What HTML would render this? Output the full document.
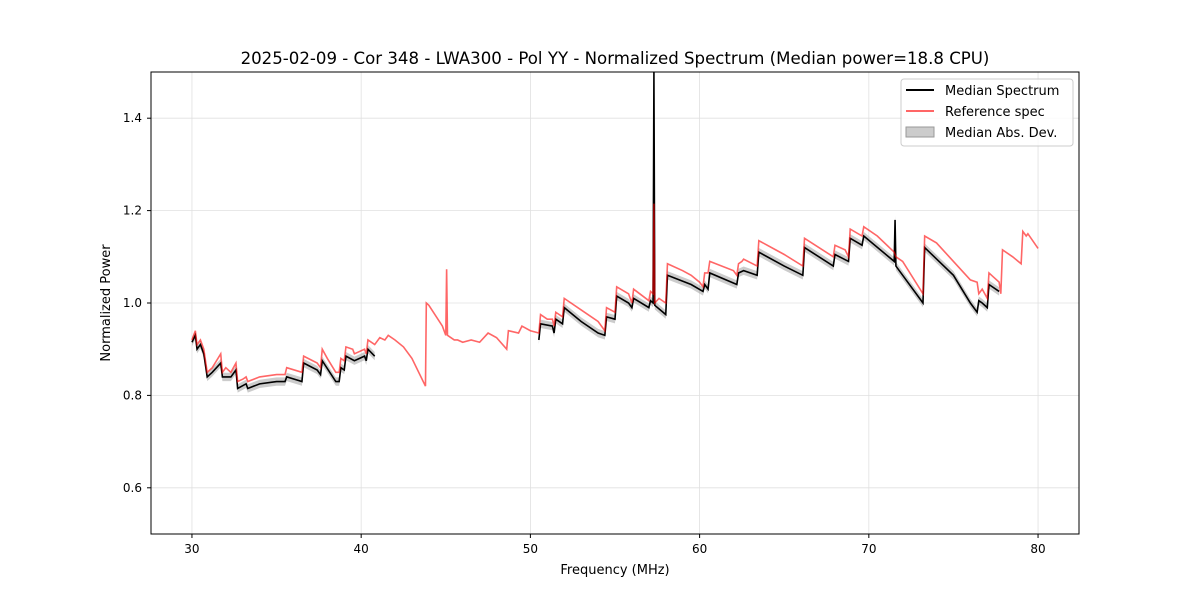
<!DOCTYPE html>
<html><head><meta charset="utf-8"><style>
body{margin:0;background:#fff;font-family:"Liberation Sans","DejaVu Sans",sans-serif}
svg text{font-family:"DejaVu Sans","Liberation Sans",sans-serif}
</style></head><body>
<svg id="c" width="1200" height="600" xmlns="http://www.w3.org/2000/svg"></svg>
<script>
const refFreq=[30.0,30.2,30.3,30.5,30.7,30.9,31.2,31.7,31.8,32.0,32.3,32.6,32.7,33.0,33.2,33.3,34,35,35.5,35.6,36.5,36.6,37.4,37.6,37.7,38.0,38.5,38.7,38.8,39.0,39.1,39.5,39.6,40.2,40.3,40.4,40.8,41.1,41.4,41.6,42.0,42.5,43.0,43.8,43.85,44.0,44.8,45.0,45.05,45.1,45.5,45.7,46.0,46.5,47.0,47.5,48.0,48.6,48.7,49.3,49.5,50.0,50.5,50.6,51.0,51.3,51.4,51.5,51.9,52.0,53,54,54.4,54.5,55,55.1,55.8,56.0,56.1,57.0,57.1,57.25,57.3,57.35,57.6,58.0,58.1,59,59.5,60.0,60.2,60.3,60.5,60.6,62.0,62.2,62.3,62.5,62.6,63.4,63.5,64.5,65,66.1,66.2,67.9,68.0,68.6,68.8,68.9,69.6,69.7,70.5,71.5,71.6,72.0,73.2,73.3,74,75,76,76.4,76.5,76.7,77.0,77.1,77.4,77.7,77.8,77.9,78.5,79.0,79.1,79.3,79.4,80.0];
const refVal=[0.92,0.94,0.91,0.92,0.90,0.85,0.86,0.89,0.85,0.86,0.85,0.87,0.83,0.835,0.84,0.83,0.84,0.845,0.845,0.86,0.85,0.885,0.87,0.86,0.90,0.88,0.85,0.85,0.88,0.875,0.905,0.90,0.89,0.90,0.89,0.92,0.91,0.925,0.92,0.93,0.92,0.905,0.88,0.82,1.0,0.995,0.95,0.93,1.073,0.93,0.92,0.92,0.915,0.92,0.915,0.935,0.925,0.90,0.94,0.935,0.95,0.94,0.935,0.975,0.965,0.965,0.95,0.98,0.97,1.01,0.985,0.96,0.94,0.99,0.98,1.035,1.02,1.00,1.03,1.005,1.025,1.02,1.215,1.0,1.01,1.0,1.085,1.07,1.06,1.045,1.035,1.065,1.065,1.09,1.07,1.06,1.085,1.09,1.095,1.08,1.135,1.115,1.105,1.08,1.14,1.1,1.125,1.115,1.1,1.16,1.145,1.165,1.145,1.11,1.1,1.09,1.02,1.145,1.13,1.09,1.05,1.045,1.02,1.03,1.01,1.065,1.055,1.045,1.02,1.115,1.1,1.085,1.155,1.145,1.15,1.118];
const medFreq=[30.0,30.2,30.3,30.5,30.7,30.9,31.2,31.7,31.8,32.3,32.6,32.7,33.2,33.3,34,35,35.5,35.6,36.5,36.6,37.4,37.6,37.7,38.5,38.7,38.8,39.0,39.1,39.6,40.2,40.3,40.4,40.8,null,50.5,50.6,51.3,51.4,51.5,51.9,52.0,53,54,54.4,54.5,55,55.1,55.8,56.0,56.1,57.0,57.1,57.25,57.3,57.35,58.0,58.1,59.5,60.2,60.3,60.5,60.6,62.2,62.3,62.6,63.4,63.5,65,66.1,66.2,67.9,68.0,68.8,68.9,69.6,69.7,71.5,71.55,71.6,73.2,73.3,75,76.0,76.4,76.5,76.7,77.0,77.1,77.7];
const medVal=[0.915,0.93,0.90,0.91,0.89,0.84,0.85,0.87,0.84,0.84,0.855,0.815,0.825,0.815,0.825,0.83,0.83,0.84,0.83,0.87,0.855,0.845,0.875,0.83,0.83,0.86,0.855,0.885,0.875,0.885,0.875,0.90,0.885,null,0.92,0.955,0.95,0.935,0.965,0.955,0.99,0.96,0.935,0.93,0.97,0.965,1.015,1.0,0.99,1.01,0.99,1.005,1.0,1.5,0.995,0.975,1.06,1.04,1.025,1.04,1.03,1.065,1.04,1.065,1.07,1.06,1.11,1.08,1.06,1.12,1.08,1.105,1.09,1.14,1.125,1.145,1.09,1.18,1.08,1.0,1.12,1.06,1.0,0.98,1.005,1.0,0.99,1.04,1.025];
const madVal=0.009;
const xTicks=[30,40,50,60,70,80];
const yTicks=[0.6,0.8,1.0,1.2,1.4];
const X0=151,X1=1079,Y0=72,Y1=534,xmin=27.58,xmax=82.42,ymin=0.5,ymax=1.5;
const sx=v=>X0+(v-xmin)/(xmax-xmin)*(X1-X0);
const sy=v=>Y1-(v-ymin)/(ymax-ymin)*(Y1-Y0);
const svg=document.getElementById('c');const NS='http://www.w3.org/2000/svg';
function mk(t,a,p){const e=document.createElementNS(NS,t);for(const k in a)e.setAttribute(k,a[k]);(p||svg).appendChild(e);return e;}
const clip=mk('clipPath',{id:'cl'});mk('rect',{x:X0,y:Y0,width:X1-X0,height:Y1-Y0},clip);
xTicks.forEach(t=>{const g=mk('line',{x1:sx(t),x2:sx(t),y1:Y0,y2:Y1,stroke:'#e0e0e0','stroke-width':0.8});


mk('line',{x1:sx(t),x2:sx(t),y1:Y1,y2:Y1+4,stroke:'#000'});
const tx=mk('text',{x:sx(t),y:Y1+19,'text-anchor':'middle','font-size':12});tx.textContent=t;

});
yTicks.forEach(t=>{const g=mk('line',{x1:X0,x2:X1,y1:sy(t),y2:sy(t),stroke:'#e0e0e0','stroke-width':0.8});


mk('line',{x1:X0-4,x2:X0,y1:sy(t),y2:sy(t),stroke:'#000'});
const tx=mk('text',{x:X0-9,y:sy(t)+4,'text-anchor':'end','font-size':12});tx.textContent=t.toFixed(1);

});
function segs(fx,fy){const out=[];let cur=[];fx.forEach((f,i)=>{if(f===null){if(cur.length)out.push(cur);cur=[];}else cur.push([f,fy[i]]);});if(cur.length)out.push(cur);return out;}
const g=mk('g',{'clip-path':'url(#cl)'});
segs(medFreq,medVal).forEach(s=>{const top=s.map(p=>sx(p[0])+','+sy(p[1]+madVal));const bot=s.slice().reverse().map(p=>sx(p[0])+','+sy(p[1]-madVal));
const b=mk('polygon',{points:top.concat(bot).join(' '),fill:'#999','fill-opacity':0.5},g);

});
segs(medFreq,medVal).forEach(s=>{const l=mk('polyline',{points:s.map(p=>sx(p[0])+','+sy(p[1])).join(' '),fill:'none',stroke:'#000','stroke-width':1.6},g);

});
const rl=mk('polyline',{points:refFreq.map((f,i)=>sx(f)+','+sy(refVal[i])).join(' '),fill:'none',stroke:'#ff0000','stroke-opacity':0.6,'stroke-width':1.6},g);


mk('rect',{x:X0,y:Y0,width:X1-X0,height:Y1-Y0,fill:'none',stroke:'#000','stroke-width':1});
const tt=mk('text',{x:615,y:64,'text-anchor':'middle','font-size':16.6});tt.textContent='2025-02-09 - Cor 348 - LWA300 - Pol YY - Normalized Spectrum (Median power=18.8 CPU)';

const xl=mk('text',{x:615,y:574,'text-anchor':'middle','font-size':13});xl.textContent='Frequency (MHz)';

const yl=mk('text',{x:110,y:303,'text-anchor':'middle','font-size':13,transform:'rotate(-90 110 303)'});yl.textContent='Normalized Power';

const lg=mk('g',{});
mk('rect',{x:901,y:79,width:172,height:67,rx:3,fill:'#fff','fill-opacity':0.8,stroke:'#ccc'},lg);
mk('line',{x1:906,x2:934,y1:90,y2:90,stroke:'#000','stroke-width':2},lg);
mk('line',{x1:906,x2:934,y1:111,y2:111,stroke:'#ff0000','stroke-opacity':0.6,'stroke-width':2},lg);
mk('rect',{x:906,y:127,width:28,height:10,fill:'#999','fill-opacity':0.5,stroke:'#999'},lg);
[['Median Spectrum',95],['Reference spec',116],['Median Abs. Dev.',137]].forEach(([t,y])=>{const e=mk('text',{x:945,y:y,'font-size':13},lg);e.textContent=t;
});
</script>
</body></html>
